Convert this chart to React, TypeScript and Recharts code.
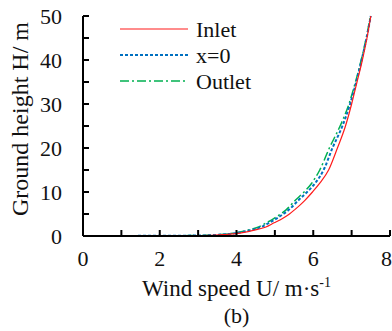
import { LineChart, Line, XAxis, YAxis } from 'recharts'

// heights (m) sampled along the profile, and wind speed at each height
const heights = [0, 0.1, 0.3, 0.6, 1, 1.5, 2, 3, 4, 5, 6, 8, 10, 12, 15, 20, 25, 30, 35, 40, 45, 50]
const inletU = [0, 3.1, 3.65, 4.05, 4.3, 4.55, 4.75, 4.98, 5.2, 5.38, 5.52, 5.77, 5.98, 6.17, 6.4, 6.63, 6.84, 7.0, 7.14, 7.28, 7.4, 7.5]
const midU = [0, 3.0, 3.55, 3.95, 4.2, 4.45, 4.63, 4.85, 5.05, 5.22, 5.37, 5.6, 5.84, 6.05, 6.27, 6.5, 6.76, 6.96, 7.12, 7.26, 7.39, 7.5]
const outletU = [0, 2.95, 3.5, 3.9, 4.15, 4.38, 4.56, 4.78, 4.98, 5.15, 5.3, 5.52, 5.76, 5.96, 6.17, 6.42, 6.7, 6.93, 7.1, 7.25, 7.38, 7.49]

const xTicks = [0, 1, 2, 3, 4, 5, 6, 7, 8]
const yTicks = [0, 5, 10, 15, 20, 25, 30, 35, 40, 45, 50]

const series = [
  { name: 'Outlet', u: outletU, color: '#00b050', width: 1.5, dash: '9 3 2 3' },
  { name: 'x=0', u: midU, color: '#0070c0', width: 2, dash: '3 2' },
  { name: 'Inlet', u: inletU, color: '#ff1a1a', width: 1.2, dash: undefined },
]
const legendOrder = ['Inlet', 'x=0', 'Outlet']

const toPoints = (u: number[]) => heights.map((h, i) => ({ u: u[i], h }))

const FONT = 'Liberation Serif, Times New Roman, serif'

function LegendBox() {
  return (
    <svg width={260} height={100} style={{ position: 'absolute', left: 0, top: 0 }}>
      {legendOrder.map((name, i) => {
        const s = series.find(d => d.name === name)!
        const y = 29 + i * 26
        return (
          <g key={name}>
            <line x1={120} x2={188} y1={y} y2={y} stroke={s.color} strokeWidth={s.width} strokeDasharray={s.dash} />
            <text x={196} y={y + 8} fontFamily={FONT} fontSize={22} fill="#111">{name}</text>
          </g>
        )
      })}
    </svg>
  )
}

export default function App() {
  return (
    <div style={{ position: 'absolute', left: 0, top: 0, width: 392, height: 331, background: '#fff', fontFamily: FONT }}>
      <LineChart width={392} height={331} margin={{ top: 16, right: 2, bottom: 0, left: 0 }}>
        <XAxis
          dataKey="u"
          type="number"
          domain={[0, 8]}
          ticks={xTicks}
          tickFormatter={v => (v % 2 === 0 ? String(v) : '')}
          tickSize={-6}
          tickMargin={20}
          height={95}
          stroke="#000"
          strokeWidth={2}
          tick={{ fill: '#111', fontSize: 22, fontFamily: FONT }}
          allowDataOverflow
          label={{
            content: ({ viewBox }: any) => {
              const cx = viewBox.x + viewBox.width / 2
              return (
                <g fontFamily={FONT} fill="#111">
                  <text x={cx} y={viewBox.y + 60} textAnchor="middle" fontSize={23}>
                    Wind speed U/ m·s<tspan dy={-9} fontSize={14}>-1</tspan>
                  </text>
                  <text x={cx} y={viewBox.y + 87} textAnchor="middle" fontSize={22}>(b)</text>
                </g>
              )
            },
          }}
        />
        <YAxis
          dataKey="h"
          type="number"
          domain={[0, 50]}
          ticks={yTicks}
          tickFormatter={v => (v % 10 === 0 ? String(v) : '')}
          tickSize={-6}
          tickMargin={27}
          width={83}
          stroke="#000"
          strokeWidth={2}
          tick={{ fill: '#111', fontSize: 22, fontFamily: FONT }}
          label={{
            content: ({ viewBox }: any) => {
              const x = viewBox.x + 28
              const y = viewBox.y + viewBox.height / 2 - 7
              return (
                <text x={x} y={y} transform={`rotate(-90, ${x}, ${y})`} textAnchor="middle"
                  fontFamily={FONT} fontSize={24} fill="#111">
                  Ground height H/ m
                </text>
              )
            },
          }}
        />
        {series.map(s => (
          <Line
            key={s.name}
            data={toPoints(s.u)}
            dataKey="h"
            name={s.name}
            type="monotoneX"
            stroke={s.color}
            strokeWidth={s.width}
            strokeDasharray={s.dash}
            dot={false}
            isAnimationActive={false}
          />
        ))}
      </LineChart>
      <LegendBox />
    </div>
  )
}
